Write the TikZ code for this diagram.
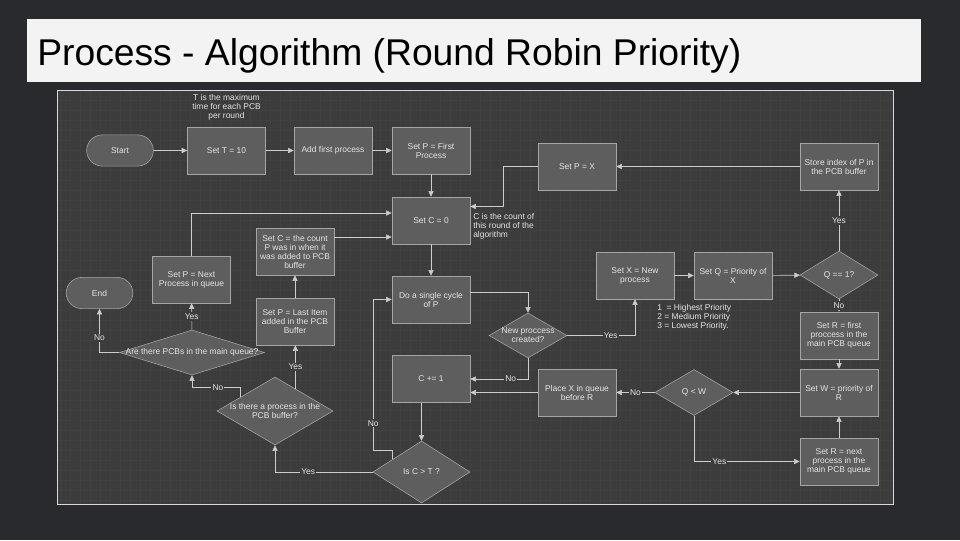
\documentclass[tikz,border=0pt]{standalone}
\usepackage{fontspec}
\setmainfont{Liberation Sans}
\usetikzlibrary{arrows.meta,positioning,shapes.geometric,shapes.misc,calc}
\definecolor{pagebg}{RGB}{41,42,46}
\definecolor{titlebar}{RGB}{243,243,243}
\definecolor{panel}{RGB}{60,60,60}
\definecolor{gridc}{RGB}{64,64,64}
\definecolor{boxfill}{RGB}{94,94,94}
\definecolor{edge}{RGB}{165,165,165}
\definecolor{wire}{RGB}{205,205,205}
\definecolor{txt}{RGB}{228,228,228}
\newcommand{\nodefont}{\fontsize{6}{6.4}\selectfont}
\tikzset{
  >={Triangle[length=1.4mm,width=1.3mm]},
  box/.style={draw=edge,fill=boxfill,thin,minimum width=1.95cm,minimum height=1.175cm,
    align=center,font=\nodefont,text=txt,inner sep=1pt},
  term/.style={rounded rectangle,draw=edge,fill=boxfill,thin,minimum width=1.9cm,
    minimum height=0.78cm,font=\nodefont,text=txt},
  dec/.style args={#1x#2}{diamond,draw=edge,fill=boxfill,thin,inner sep=0pt,
    minimum width=#1cm,minimum height=#2cm},
  dectext/.style={font=\nodefont,text=txt,align=center,inner sep=0pt},
  flow/.style={->,draw=wire,thin},
  lbl/.style={font=\nodefont,text=txt,fill=panel,inner sep=0.8pt},
  note/.style={font=\nodefont,text=txt,align=#1,inner sep=0pt},
  note/.default=center,
}

\begin{document}
\begin{tikzpicture}[x=0.025cm,y=0.025cm]
  % slide
  \fill[pagebg] (0,0) rectangle (960,-540);
  \fill[titlebar] (27,-19) rectangle (921,-82);
  \node[anchor=base west,inner sep=0pt,font=\fontsize{26.5}{31}\selectfont] (title) at (37,-65)
    {Process - Algorithm (Round Robin Priority)};
  \fill[panel] (57,-90) rectangle (893,-504);
  \draw[gridc,line width=0.2pt,step=0.25cm] (57,-90) grid (893,-504);
  \draw[white!85!black,line width=0.6pt] (57,-90) rectangle (893,-504);

  % nodes
  \node[term] (start) at (120,-150.5) {Start};
  \node[box] (setT) at (226.5,-150.5) {Set T = 10};
  \node[note] (tnote) at (226.5,-107) {T is the maximum\\time for each PCB\\per round};
  \node[box] (addfirst) at (333,-150.5) {Add first process};
  \node[box] (setPfirst) at (431,-150.5) {Set P = First\\Process};
  \node[box] (setPX) at (577,-166.5) {Set P = X};
  \node[box] (store) at (839,-166.5) {Store index of P in\\the PCB buffer};
  \node[box] (setC0) at (431,-220.5) {Set C = 0};
  \node[note=left,anchor=north west] (cnote) at (473,-213) {C is the count of\\this round of the\\algorithm};
  \node[box] (setCcount) at (295,-251.5) {Set C = the count\\P was in when it\\was added to PCB\\buffer};
  \node[box] (setPnext) at (191.5,-279.5) {Set P = Next\\Process in queue};
  \node[term] (theend) at (99.5,-293) {End};
  \node[box] (setPlast) at (295,-321.5) {Set P = Last Item\\added in the PCB\\Buffer};
  \node[box] (docycle) at (431,-299.5) {Do a single cycle\\of P};
  \node[box] (setX) at (635,-275.5) {Set X = New\\process};
  \node[box] (setQ) at (733,-275.5) {Set Q = Priority of\\X};
  \node[dec=1.95x1.2,label={[dectext]center:Q == 1?}] (qone) at (839,-275) {};
  \node[note=left,anchor=north west] (prionote) at (657,-304)
    {1~~= Highest Priority\\2 = Medium Priority\\3 = Lowest Priority.};
  \node[dec=1.95x1.125,label={[dectext]center:{New proccess\\created?}}] (newproc) at (528,-335.5) {};
  \node[dec=3.625x1.125,label={[dectext]center:Are there PCBs in the main queue?}] (arePCB) at (192,-352.5) {};
  \node[box] (setRfirst) at (839,-335.5) {Set R = first\\proccess in the\\main PCB queue};
  \node[box] (cinc) at (431,-379) {C += 1};
  \node[box] (placeX) at (577,-392.5) {Place X in queue\\before R};
  \node[dec=1.95x1.15,label={[dectext]center:Q < W}] (qlw) at (694,-392.5) {};
  \node[box] (setW) at (839,-392.5) {Set W = priority of\\R};
  \node[dec=2.9x1.7,label={[dectext]center:{Is there a process in the\\PCB buffer?}}] (buffer) at (275,-411) {};
  \node[dec=2.425x1.55,label={[dectext]center:Is C > T ?}] (isct) at (421.5,-472) {};
  \node[box] (setRnext) at (839,-461.5) {Set R = next\\process in the\\main PCB queue};

  % connectors
  \draw[flow] (start) -- (setT);
  \draw[flow] (setT) -- (addfirst);
  \draw[flow] (addfirst) -- (setPfirst);
  \draw[flow] (setPfirst) -- (setC0);
  \draw[flow] (store) -- (setPX);
  \draw[flow] (setPX.west) -- ++(-34,0) |- ($(setC0.east)+(0,14)$);
  \draw[flow] (qone) -- node[lbl]{Yes} (store);
  \draw[flow] (qone) -- node[lbl]{No} (setRfirst);
  \draw[flow] (setRfirst) -- (setW);
  \draw[flow] (setRnext) -- (setW);
  \draw[flow] (setW) -- (qlw);
  \draw[flow] (qlw) -- node[lbl]{No} (placeX);
  \draw[flow] (qlw.south) |- node[lbl,pos=0.62]{Yes} (setRnext.west);
  \draw[flow] (placeX.west) -- (placeX.west -| cinc.east);
  \draw[flow] (newproc.south) |- node[lbl,pos=0.65]{No} (cinc.east);
  \draw[flow] (newproc.east) -| node[lbl,pos=0.32]{Yes} (setX.south);
  \draw[flow] ($(docycle.east)+(0,7.5)$) -| (newproc.north);
  \draw[flow] (setC0) -- (docycle);
  \draw[flow] (setX) -- (setQ);
  \draw[flow] (setQ) -- (qone);
  \draw[flow] (isct.north |- cinc.south) -- (isct.north);
  \draw[flow] ($(isct.north)!0.6!(isct.west)$) -- ++(0,9) -- ++(-19,0)
    |- node[lbl,pos=0.09]{No} (docycle.west);
  \draw[flow] (isct.west) -| node[lbl,pos=0.33]{Yes} (buffer.south);
  \draw[flow] ($(buffer.north)!0.35!(buffer.east)$) coordinate (bufyes)
    -- node[lbl]{Yes} (bufyes |- setPlast.south);
  \draw[flow] ($(buffer.north)!0.6!(buffer.west)$) -- ++(0,10) -| node[lbl,pos=0.23]{No} (arePCB.south);
  \draw[flow] (arePCB) -- node[lbl]{Yes} (setPnext);
  \draw[flow] (arePCB.west) -| node[lbl,pos=0.67]{No} (theend.south);
  \draw[flow] (setPnext.north) |- ($(setC0.west)+(0,7.5)$);
  \draw[flow] ($(setCcount.east)+(0,14.5)$) coordinate (cc) -- (cc -| setC0.west);
  \draw[flow] (setPlast) -- (setCcount);
\end{tikzpicture}
\end{document}
